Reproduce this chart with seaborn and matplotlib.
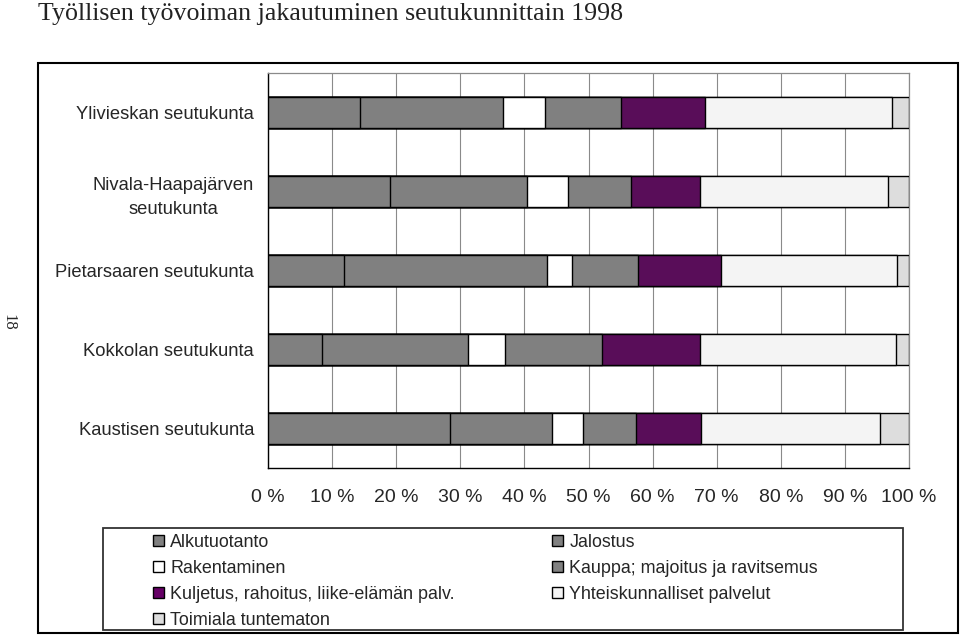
import numpy as np
import pandas as pd
import seaborn as sns
import matplotlib.pyplot as plt
from matplotlib.patches import Patch, Rectangle

# Data (share of employed labour force, %)
regions = ["Ylivieskan seutukunta", "Nivala-Haapajärven\nseutukunta",
           "Pietarsaaren seutukunta", "Kokkolan seutukunta", "Kaustisen seutukunta"]
sectors = ["Alkutuotanto", "Jalostus", "Rakentaminen", "Kauppa; majoitus ja ravitsemus",
           "Kuljetus, rahoitus, liike-elämän palv.", "Yhteiskunnalliset palvelut",
           "Toimiala tuntematon"]
alkutuotanto = [14.3, 19.1, 11.9, 8.4, 28.4]
jalostus = [22.3, 21.3, 31.6, 22.8, 15.9]
rakentaminen = [6.6, 6.4, 3.9, 5.8, 4.9]
kauppa = [11.8, 9.8, 10.4, 15.1, 8.2]
kuljetus = [13.2, 10.8, 12.9, 15.3, 10.2]
yhteiskunnalliset = [29.2, 29.4, 27.5, 30.6, 27.9]
tuntematon = [2.6, 3.2, 1.8, 2.0, 4.5]
xtick_labels = ["0 %", "10 %", "20 %", "30 %", "40 %", "50 %",
                "60 %", "70 %", "80 %", "90 %", "100 %"]

colors = ["#808080", "#808080", "#ffffff", "#808080", "#660066", "#f4f4f4", "#dddddd"]

df = pd.DataFrame(np.array([alkutuotanto, jalostus, rakentaminen, kauppa, kuljetus,
                            yhteiskunnalliset, tuntematon]).T,
                  columns=sectors)
df["region"] = regions
cum = df[sectors].cumsum(axis=1)

sns.set_style("white")
plt.rcParams["font.family"] = ["Liberation Sans", "DejaVu Sans"]

fig = plt.figure(figsize=(9.6, 6.35), dpi=100)
ax = fig.add_axes([268 / 960, 1 - 468 / 635, 641 / 960, 395 / 635])

# stacked bars: draw cumulative totals from the longest to the shortest
for sector, color in reversed(list(zip(sectors, colors))):
    sns.barplot(x=cum[sector], y=df["region"], orient="h", color=color,
                edgecolor="black", linewidth=1.0, width=0.4, ax=ax, zorder=3)

ax.set_xlim(0, 100)
ax.set_ylim(4.5, -0.5)
ax.set_xticks(np.arange(0, 101, 10))
ax.set_xticklabels(xtick_labels, fontsize=14)
ax.set_xlabel("")
ax.set_ylabel("")
ax.grid(axis="x", color="#8a8a8a", linewidth=0.8, zorder=0)
ax.set_axisbelow(True)

ax.tick_params(axis="y", which="major", length=0, pad=10, labelsize=13.2)
ax.set_yticks(np.arange(-0.5, 5, 1), minor=True)
ax.tick_params(axis="y", which="minor", length=5, width=1, color="black", direction="out")
ax.tick_params(axis="x", length=6, width=1, color="black", direction="out", pad=9)
for lab in ax.get_yticklabels():
    lab.set_multialignment("center")
    lab.set_linespacing(1.55)

for side in ["left", "bottom"]:
    ax.spines[side].set_color("black")
    ax.spines[side].set_linewidth(1.0)
for side in ["top", "right"]:
    ax.spines[side].set_color("#8a8a8a")
    ax.spines[side].set_linewidth(0.9)

# legend, row-major order as in the original
order = [0, 2, 4, 6, 1, 3, 5]
handles = [Patch(facecolor=colors[i], edgecolor="black", linewidth=1.0) for i in order]
labels = [sectors[i] for i in order]
fig.legend(handles, labels, ncol=2, loc="upper left",
           bbox_to_anchor=(153 / 960, 1 - 534 / 635), frameon=False, fontsize=12.9,
           handlelength=0.6, handleheight=0.6, handletextpad=0.35,
           labelspacing=0.5, columnspacing=5.45, borderpad=0, borderaxespad=0)
fig.patches.append(Rectangle((103 / 960, 1 - 630 / 635), 800 / 960, 102 / 635,
                             transform=fig.transFigure, fill=False,
                             edgecolor="#333333", linewidth=1.3))

# outer frame
fig.patches.append(Rectangle((38 / 960, 1 - 633 / 635), 920 / 960, 570 / 635,
                             transform=fig.transFigure, fill=False,
                             edgecolor="black", linewidth=1.5))

fig.text(38 / 960, 1 - 3 / 635, "Työllisen työvoiman jakautuminen seutukunnittain 1998",
         family="Liberation Serif", fontsize=18.6, va="top", ha="left", color="#222222")
fig.text(8 / 960, 1 - 322 / 635, "18", family="Liberation Serif", fontsize=12,
         rotation=-90, va="center", ha="center")

fig.savefig("out.png", dpi=100)
